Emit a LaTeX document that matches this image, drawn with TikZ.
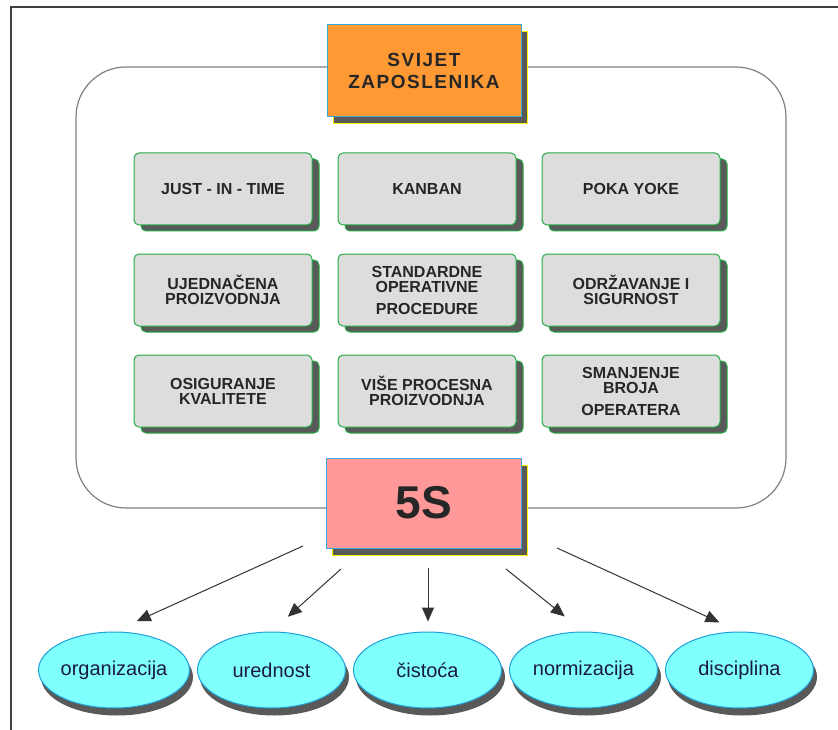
\documentclass[tikz,border=0pt]{standalone}
\usepackage{fontspec}
\setmainfont{Liberation Sans}
\usetikzlibrary{shapes.geometric, arrows.meta, positioning, shadows}

\definecolor{headorange}{HTML}{FF9933}
\definecolor{basepink}{HTML}{FF9999}
\definecolor{edgecyan}{HTML}{33AADD}
\definecolor{boxgray}{HTML}{DDDDDD}
\definecolor{boxgreen}{HTML}{22AA44}
\definecolor{shadowgray}{HTML}{595959}
\definecolor{ellcyan}{HTML}{80FFFF}
\definecolor{ellblue}{HTML}{1FA0D8}
\definecolor{navytext}{HTML}{1A1A40}

\begin{document}
\begin{tikzpicture}[x=1pt, y=-1pt, node distance=28pt and 25pt, auto]

  % Define styles for the different blocks
  \tikzstyle{frame} = [draw=black!75, line width=1.3pt]
  \tikzstyle{group} = [draw=black!50, line width=1.2pt, rounded corners=50pt, minimum width=710pt, minimum height=441pt]
  \tikzstyle{title} = [draw=edgecyan, line width=1pt, fill=headorange, minimum width=194pt, minimum height=92pt, align=center, text=black!85,
    font={\bfseries\fontsize{19}{22}\selectfont\addfontfeatures{LetterSpace=8}},
    general shadow={fill=shadowgray, draw=yellow, shadow xshift=6pt, shadow yshift=-7pt}]
  \tikzstyle{base} = [draw=edgecyan, line width=1pt, fill=basepink, minimum width=195pt, minimum height=90pt, text=black!85,
    font={\bfseries\fontsize{46}{50}\selectfont},
    general shadow={fill=shadowgray, draw=yellow, shadow xshift=6pt, shadow yshift=-7pt}]
  \tikzstyle{method} = [draw=boxgreen, line width=1pt, fill=boxgray, rounded corners=5pt, minimum width=178pt, minimum height=72pt, align=center, text=black!85,
    font={\bfseries\fontsize{16}{15}\selectfont},
    general shadow={fill=shadowgray, draw=boxgreen, shadow xshift=7pt, shadow yshift=-6pt}]
  \tikzstyle{pillar} = [ellipse, draw=ellblue, line width=1pt, fill=ellcyan, minimum width=148pt, minimum height=76pt, inner sep=0pt, text=navytext,
    font={\fontsize{20}{24}\selectfont},
    general shadow={fill=shadowgray, draw=shadowgray, shadow xshift=3pt, shadow yshift=-7pt}]
  \tikzstyle{arrow} = [-{Triangle[length=14pt, width=12pt]}, line width=1pt, black!80]

  \useasboundingbox (0,0) rectangle (838,730);
  \draw[frame] (11,730) -- (11,7) -- (838,7);

  \node (world) [group] at (431,287.5) {};
  \node (svijet) [title] at (424,71) {SVIJET\\ZAPOSLENIKA};
  \node (fives) [base] at (424,503) {5S};

  \node (jit) [method] at (223,189) {JUST - IN - TIME};
  \node (kanban) [method, right=of jit] {KANBAN};
  \node (poka) [method, right=of kanban] {POKA YOKE};
  \node (ujed) [method, below=of jit] {UJEDNAČENA\\PROIZVODNJA};
  \node (sop) [method, right=of ujed] {STANDARDNE\\OPERATIVNE\\[7pt]PROCEDURE};
  \node (odrz) [method, right=of sop] {ODRŽAVANJE I\\SIGURNOST};
  \node (kval) [method, below=of ujed] {OSIGURANJE\\KVALITETE};
  \node (vise) [method, right=of kval] {VIŠE PROCESNA\\PROIZVODNJA};
  \node (smanj) [method, right=of vise] {SMANJENJE\\BROJA\\[7pt]OPERATERA};

  \node (org) [pillar] at (114,670) {organizacija};
  \node (ured) [pillar, right=7pt of org] {urednost};
  \node (cist) [pillar, right=7pt of ured] {čistoća};
  \node (norm) [pillar, right=7pt of cist] {normizacija};
  \node (disc) [pillar, right=7pt of norm] {disciplina};

  \coordinate (s1) at (303,546);
  \coordinate (s2) at (341,569);
  \coordinate (s3) at (428,568);
  \coordinate (s4) at (506,569);
  \coordinate (s5) at (557,548);

  \draw[arrow, shorten >=25pt] (s1) -- (org.north);
  \draw[arrow, shorten >=22pt] (s2) -- (ured.north);
  \draw[arrow, shorten >=10pt] (s3) -- (s3 |- cist.north);
  \draw[arrow, shorten >=24pt] (s4) -- (norm.north);
  \draw[arrow, shorten >=22pt] (s5) -- (disc.north);

\end{tikzpicture}
\end{document}
